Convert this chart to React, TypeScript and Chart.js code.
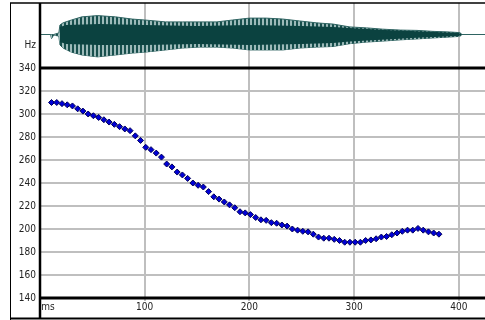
import React, { useEffect, useRef } from 'react';
import { Chart, registerables } from 'chart.js';

Chart.register(...registerables);

// Pitch track (ms, Hz)
const pitchTimesMs = [
  11, 16, 21, 26, 31, 36, 41, 46, 51, 56, 61, 66, 71, 76, 81, 86, 91, 96, 101, 106,
  111, 116, 121, 126, 131, 136, 141, 146, 151, 156, 161, 166, 171, 176, 181, 186, 191, 196, 201, 206,
  211, 216, 221, 226, 231, 236, 241, 246, 251, 256, 261, 266, 271, 276, 281, 286, 291, 296, 301, 306,
  311, 316, 321, 326, 331, 336, 341, 346, 351, 356, 361, 366, 371, 376, 381,
];
const pitchHz = [
  310, 310, 309, 308, 307, 304.5, 302.5, 300, 298.5, 297, 295, 293, 291, 289, 287, 285.5, 281, 277, 271, 269,
  266, 262.5, 256.5, 254, 249.5, 247, 244, 240, 238, 236.5, 232.5, 228, 226, 223.5, 221, 218.5, 215, 214, 212.5, 210,
  208, 207.5, 205.5, 205, 203.5, 202.5, 200, 199, 198, 197.5, 195.5, 193, 192, 192, 191, 190, 188.5, 188.5, 188.5, 188.5,
  190, 190.5, 191.5, 193, 193.5, 195, 196.5, 198, 199, 199, 200.5, 199, 197.5, 196.5, 195.5,
];

// Waveform outer envelope (ms, relative amplitude)
const waveTimesMs = [
  0, 10, 11, 13, 18, 19, 22, 30, 40, 55, 72, 88, 100, 120, 136, 152, 169, 184, 200, 216,
  232, 248, 264, 280, 296, 312, 327, 344, 360, 375, 391, 401, 403, 425,
];
const waveUpper = [
  0, 0, 0, 0, 0.05, 0.3, 0.37, 0.46, 0.56, 0.6, 0.56, 0.49, 0.46, 0.4, 0.4, 0.4, 0.4, 0.46, 0.52, 0.52,
  0.49, 0.43, 0.37, 0.33, 0.24, 0.21, 0.17, 0.14, 0.13, 0.1, 0.08, 0.06, 0, 0,
];
const waveLower = [
  0, 0, -0.13, -0.02, -0.05, -0.33, -0.43, -0.56, -0.65, -0.71, -0.65, -0.59, -0.56, -0.49, -0.43, -0.4, -0.4, -0.43, -0.49, -0.49,
  -0.49, -0.43, -0.4, -0.38, -0.29, -0.24, -0.21, -0.17, -0.14, -0.11, -0.08, -0.06, 0, 0,
];

// Waveform dense core envelope
const coreTimesMs = [19, 25, 57, 100, 150, 200, 250, 280, 296, 330, 360, 400, 403];
const coreUpper = [0.24, 0.3, 0.33, 0.3, 0.27, 0.3, 0.27, 0.24, 0.21, 0.14, 0.1, 0.05, 0];
const coreLower = [-0.24, -0.3, -0.33, -0.33, -0.3, -0.33, -0.3, -0.27, -0.22, -0.16, -0.1, -0.05, 0];

// Axis ticks
const xTickValues = [7.5, 100, 200, 300, 400];
const xTickLabels = ['ms', '100', '200', '300', '400'];
const yTickValues = [140, 160, 180, 200, 220, 240, 260, 280, 300, 320, 340, 360];
const yTickLabels = ['140', '160', '180', '200', '220', '240', '260', '280', '300', '320', '340', 'Hz'];

const W = 485;
const H = 320;
const FONT = "'Liberation Sans Narrow', 'DejaVu Sans Condensed', 'Liberation Sans', sans-serif";

function stripePattern(): CanvasPattern | string {
  const c = document.createElement('canvas');
  c.width = 4;
  c.height = 1;
  const g = c.getContext('2d');
  if (!g) return 'rgba(20,80,78,0.5)';
  g.fillStyle = '#9dbab9';
  g.fillRect(0, 0, 4, 1);
  g.fillStyle = '#184f4d';
  g.fillRect(0, 0, 2, 1);
  const p = g.createPattern(c, 'repeat');
  return p || 'rgba(20,80,78,0.5)';
}

const framePlugin = {
  id: 'frame',
  afterDraw(chart: any) {
    const { ctx, chartArea: a, scales } = chart;
    const y340 = scales.y.getPixelForValue(340);
    const y140 = scales.y.getPixelForValue(140);
    const line = (x1: number, y1: number, x2: number, y2: number, w: number) => {
      ctx.lineWidth = w;
      ctx.beginPath();
      ctx.moveTo(x1, y1);
      ctx.lineTo(x2, y2);
      ctx.stroke();
    };
    ctx.save();
    ctx.strokeStyle = '#000';
    line(10.5, a.top, 10.5, H, 1);
    line(10, a.top, W, a.top, 1.5);
    line(10, H - 1.5, W, H - 1.5, 2);
    line(a.left, a.top, a.left, H - 1, 2.5);
    line(a.left, y340, W, y340, 3);
    line(a.left, y140, W, y140, 3);
    ctx.restore();
  },
};

export default function App() {
  const ref = useRef<HTMLCanvasElement | null>(null);

  useEffect(() => {
    if (!ref.current) return;
    const toXY = (xs: number[], ys: number[]) => xs.map((x, i) => ({ x, y: ys[i] }));
    const chart = new Chart(ref.current, {
      type: 'line',
      data: {
        datasets: [
          {
            data: toXY(pitchTimesMs, pitchHz),
            yAxisID: 'y',
            showLine: false,
            pointStyle: 'rectRot',
            pointRadius: 3,
            pointBackgroundColor: '#0000d6',
            pointBorderColor: '#00005a',
            pointBorderWidth: 1,
          },
          {
            data: toXY(coreTimesMs, coreUpper),
            yAxisID: 'yw',
            pointRadius: 0,
            borderWidth: 0,
            borderColor: '#0b4240',
            backgroundColor: '#0b4240',
            fill: '+1',
          },
          {
            data: toXY(coreTimesMs, coreLower),
            yAxisID: 'yw',
            pointRadius: 0,
            borderWidth: 0,
            borderColor: '#0b4240',
            fill: false,
          },
          {
            data: toXY(waveTimesMs, waveUpper),
            yAxisID: 'yw',
            pointRadius: 0,
            borderWidth: 1,
            borderColor: '#2f6462',
            backgroundColor: stripePattern() as any,
            fill: '+1',
          },
          {
            data: toXY(waveTimesMs, waveLower),
            yAxisID: 'yw',
            pointRadius: 0,
            borderWidth: 1,
            borderColor: '#2f6462',
            fill: false,
          },
        ],
      },
      options: {
        animation: false,
        responsive: false,
        layout: { autoPadding: false, padding: { top: 3, left: 0, right: 0, bottom: 0 } },
        plugins: { legend: { display: false }, tooltip: { enabled: false } },
        scales: {
          x: {
            type: 'linear',
            min: 0,
            max: 425,
            afterBuildTicks: (s: any) => {
              s.ticks = xTickValues.map((v) => ({ value: v }));
            },
            afterFit: (s: any) => {
              s.height = 22;
              s.paddingLeft = 0;
              s.paddingRight = 0;
            },
            ticks: {
              autoSkip: false,
              maxRotation: 0,
              padding: 0,
              color: '#222',
              font: { family: FONT, size: 10 },
              callback: (v: any) => xTickLabels[xTickValues.indexOf(Number(v))] ?? '',
            },
            grid: {
              lineWidth: 2,
              tickLength: 3,
              color: (c: any) => (c.tick && c.tick.value === 7.5 ? 'rgba(0,0,0,0)' : '#bfbfbf'),
            },
            border: { display: false },
          },
          y: {
            type: 'linear',
            position: 'left',
            min: 140,
            max: 396.52,
            afterBuildTicks: (s: any) => {
              s.ticks = yTickValues.map((v) => ({ value: v }));
            },
            afterFit: (s: any) => {
              s.width = 40;
              s.paddingTop = 0;
              s.paddingBottom = 0;
            },
            ticks: {
              autoSkip: false,
              padding: 4,
              color: '#222',
              font: { family: FONT, size: 10 },
              callback: (v: any) => yTickLabels[yTickValues.indexOf(Number(v))] ?? '',
            },
            grid: {
              lineWidth: 2,
              drawTicks: false,
              color: (c: any) => {
                const v = c.tick ? c.tick.value : 0;
                return v === 360 || v === 340 || v === 140 ? 'rgba(0,0,0,0)' : '#bfbfbf';
              },
            },
            border: { display: false },
          },
          yw: {
            type: 'linear',
            display: false,
            min: -8.365,
            max: 1,
          },
        },
      },
      plugins: [framePlugin],
    });
    return () => chart.destroy();
  }, []);

  return (
    <div style={{ position: 'absolute', left: 0, top: 0, width: W, height: H, background: '#fff' }}>
      <canvas ref={ref} width={W} height={H} style={{ display: 'block', width: W, height: H }} />
    </div>
  );
}
